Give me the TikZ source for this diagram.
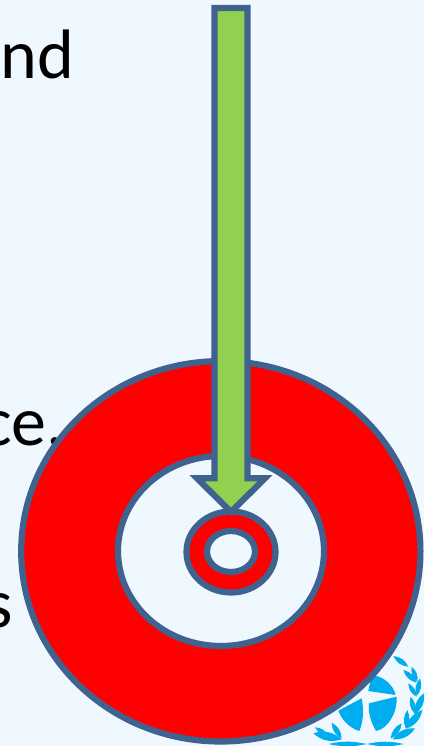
\documentclass[tikz,border=0pt]{standalone}
\usepackage{fontspec}
\setmainfont{Carlito}
\definecolor{bgc}{HTML}{F0F8FF}
\definecolor{ringc}{HTML}{3F628F}
\definecolor{greenc}{HTML}{92D050}
\definecolor{unblue}{HTML}{00AEEF}
\tikzset{
  ring/.style={draw=ringc,line width=6.2pt},
  slide text/.style={inner sep=0pt,anchor=base west,font=\fontsize{70}{70}\selectfont,text=black},
  leaf/.style={fill=unblue,draw=none}
}
\newcommand{\lf}[3][24]{\fill[leaf] (#2) to[bend left=#1] (#3) to[bend left=#1] (#2);}
\begin{document}
\begin{tikzpicture}[x=1pt,y=-1pt]
\useasboundingbox (0,0) rectangle (424,746);
\fill[bgc] (0,0) rectangle (424,746);
% text
\node[slide text] (t1) at (0.5,79) {nd};
\node[slide text] (t2) at (-18,445) {ce,};
\node[slide text] (t3) at (-15,627) {s};
% emblem
\begin{scope}[shift={(300,640)},x=0.3333pt,y=-0.3333pt]
\fill[leaf] (215,105) .. controls (250,108) and (280,135) .. (287,165) -- (205,153) -- cycle;
\fill[leaf] (207,190) -- (290,170) .. controls (292,220) and (265,265) .. (228,273) .. controls (215,250) and (203,220) .. (207,190) -- cycle;
\fill[leaf] (185,175) .. controls (192,210) and (190,245) .. (178,273) .. controls (150,265) and (125,240) .. (115,212) -- cycle;
\lf[30]{280,48}{325,80}
\lf[30]{310,90}{350,128}
\lf[30]{335,80}{352,125}
\lf[30]{325,130}{350,170}
\lf[30]{360,115}{350,168}
\lf[30]{332,170}{345,222}
\lf[30]{372,160}{345,222}
\lf[30]{322,210}{318,266}
\lf[30]{367,210}{318,266}
\lf[30]{305,250}{272,296}
\lf[30]{345,265}{278,298}
\lf[30]{45,262}{85,287}
\lf[30]{40,280}{125,298}
\lf[30]{95,248}{125,296}
\lf[12]{85,312}{200,312}
\lf[12]{200,312}{312,312}
\end{scope}
% rings
\fill[red,even odd rule] (220.8,551.3) ellipse[x radius=199.6,y radius=190.2] (221,551) ellipse[x radius=103,y radius=95];
\draw[ring] (220.8,551.3) ellipse[x radius=199.6,y radius=190.2];
\draw[ring] (221,551) ellipse[x radius=103,y radius=95];
\fill[red,even odd rule] (231,552) ellipse[x radius=44.5,y radius=40.5] (231,551.5) ellipse[x radius=24,y radius=20.5];
\draw[ring] (231,552) ellipse[x radius=44.5,y radius=40.5];
\draw[ring] (231,551.5) ellipse[x radius=24,y radius=20.5];
% arrow
\draw[ring,fill=greenc,line join=miter,miter limit=10] (214.5,8) -- (247.5,8) -- (247.5,478.2) -- (265,478.2) -- (231,512) -- (197,478.2) -- (214.5,478.2) -- cycle;
\end{tikzpicture}
\end{document}
